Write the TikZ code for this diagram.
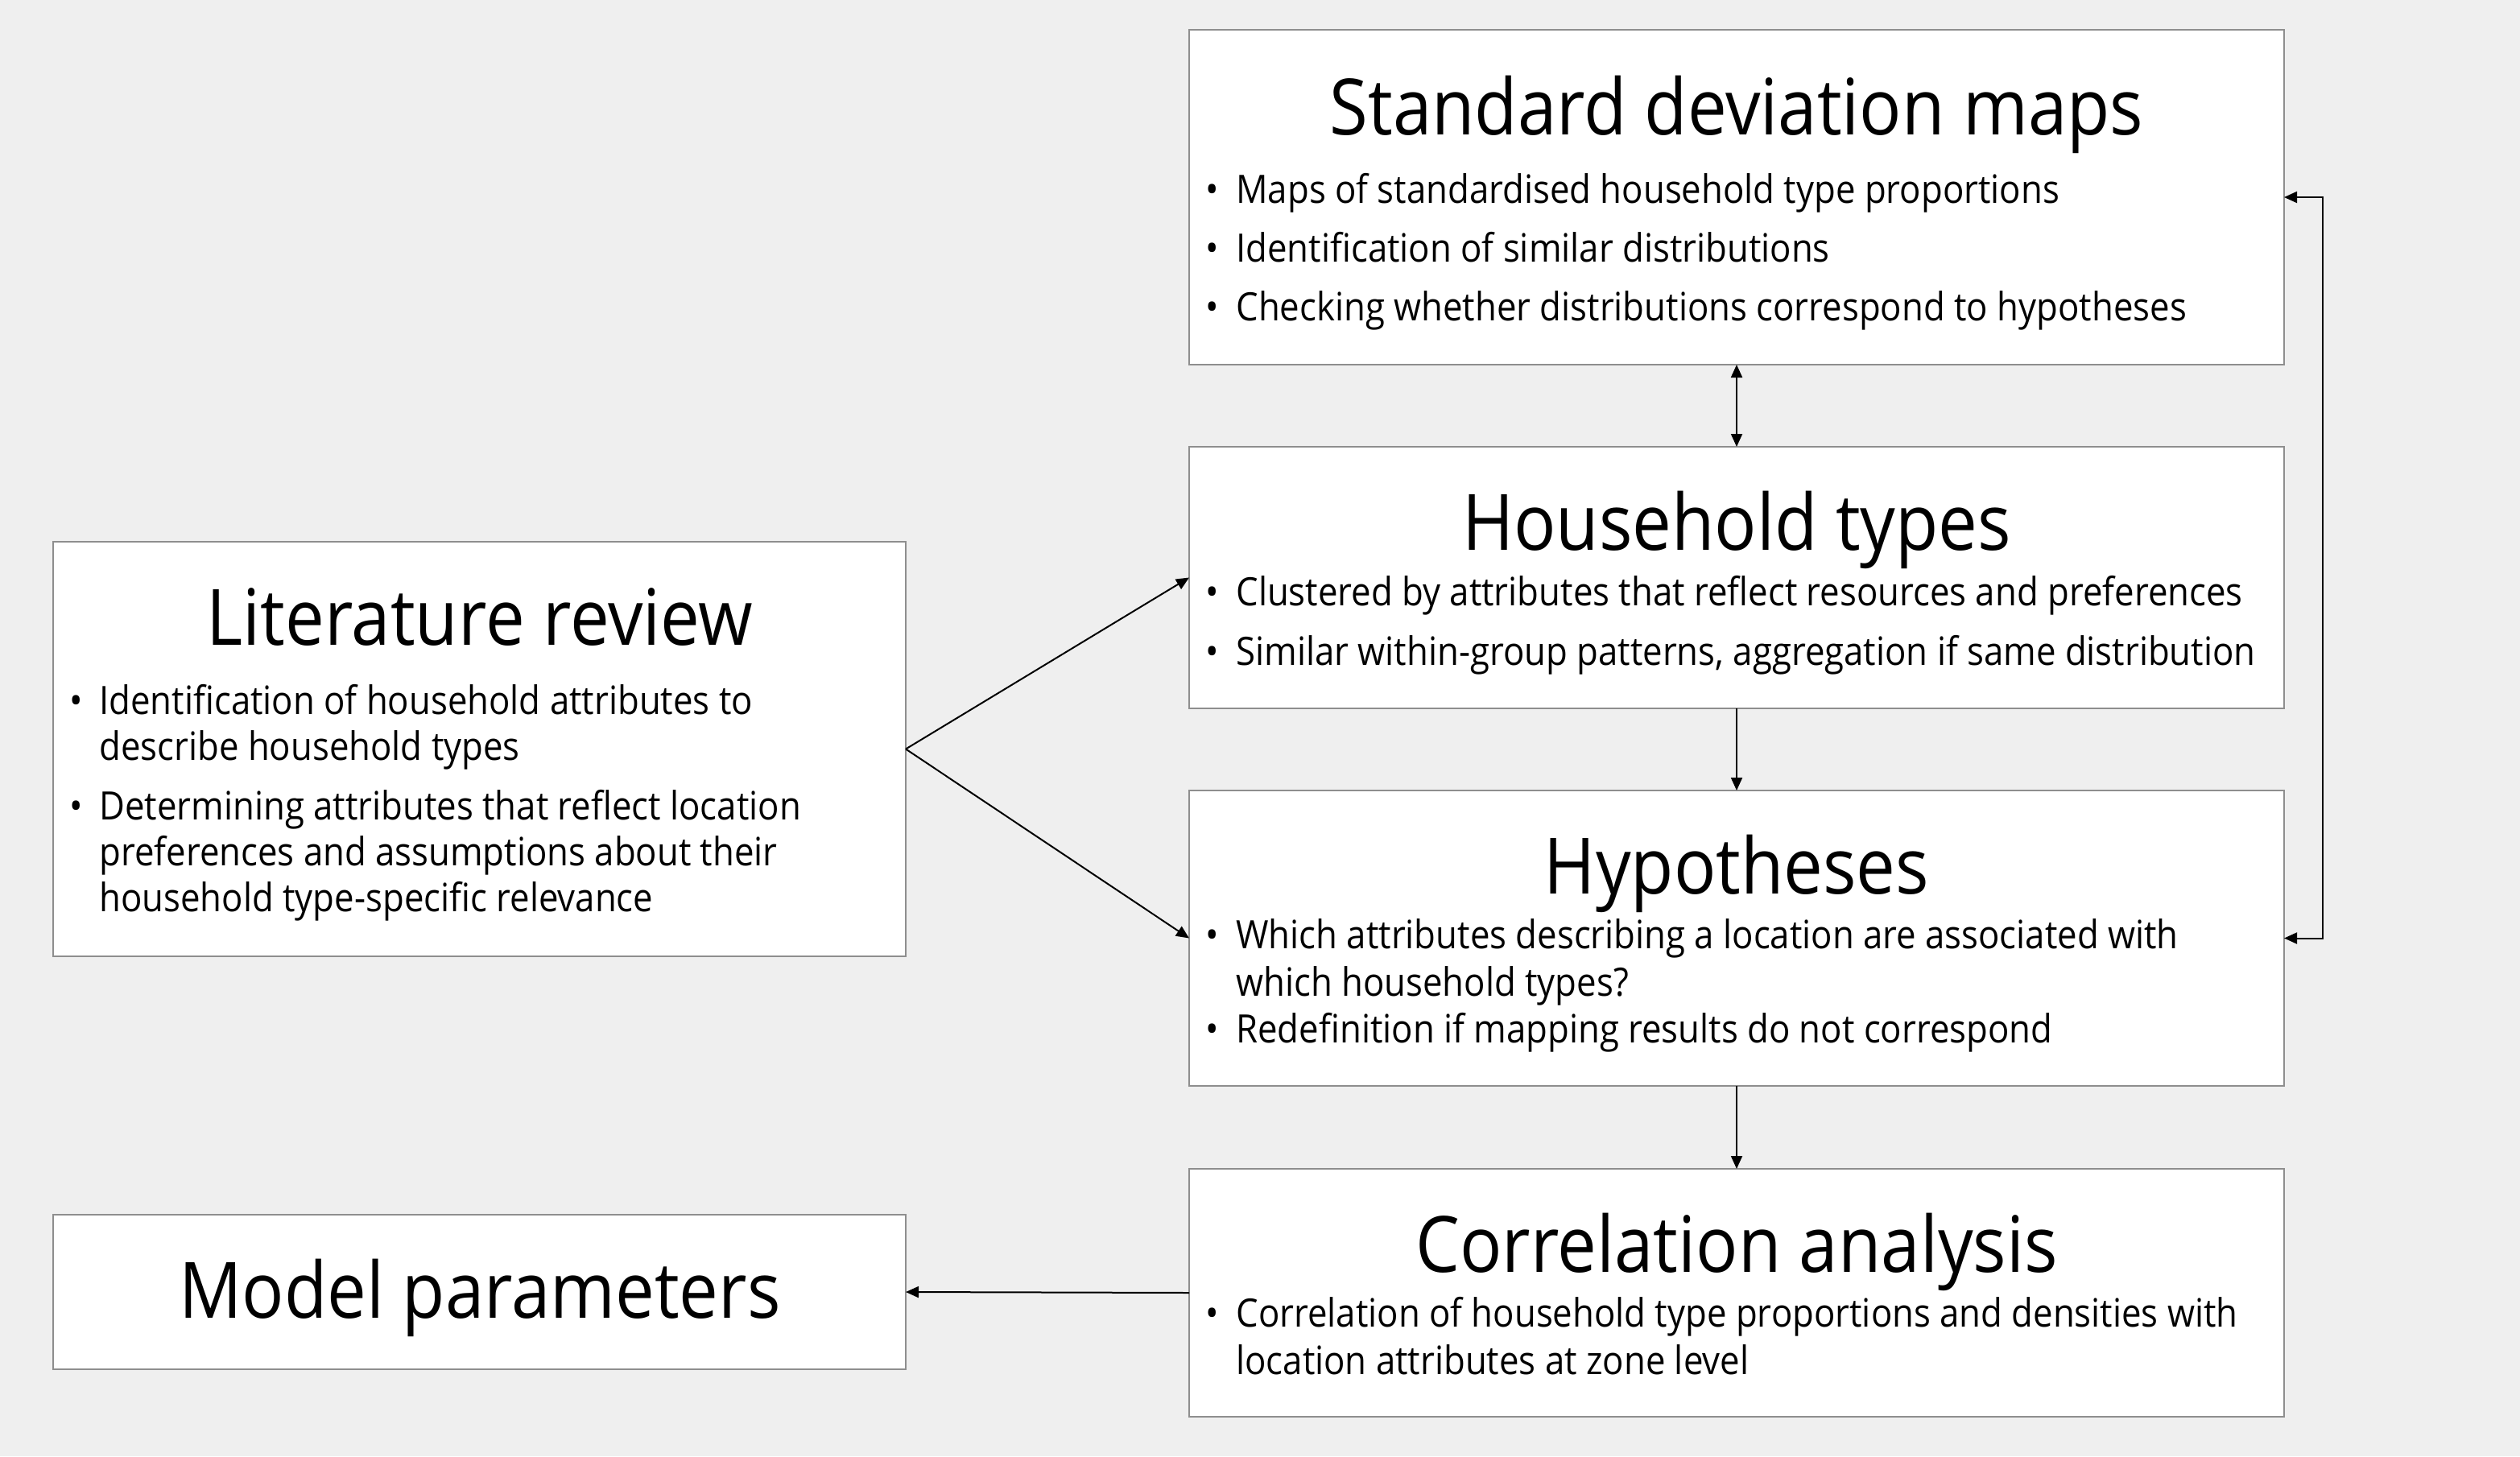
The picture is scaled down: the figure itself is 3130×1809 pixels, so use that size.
\documentclass[tikz,border=0pt]{standalone}
\usepackage{fontspec}
\setmainfont{Open Sans}[FakeStretch=0.9]
\usetikzlibrary{arrows.meta,fit}
\definecolor{bg}{HTML}{EFEFEF}
\definecolor{edgegray}{HTML}{8E8E8E}
\begin{document}
\begin{tikzpicture}[x=0.5pt,y=-0.5pt,
  box/.style={draw=edgegray, line width=1pt, fill=white, inner sep=0pt, outer sep=0pt},
  ttl/.style={anchor=base, inner sep=0pt, font=\fontsize{48.3}{58}\selectfont},
  itm/.style={anchor=base west, inner sep=0pt, font=\fontsize{24.3}{29}\selectfont},
  arr/.style={line width=1pt, -{Triangle[length=8pt,width=7pt]}},
  darr/.style={line width=1pt, {Triangle[length=8pt,width=7pt]}-{Triangle[length=8pt,width=7pt]}}]
\fill[bg] (0,0) rectangle (3130,1809);
\useasboundingbox (0,0) rectangle (3130,1809);

% boxes
\node[box, fit={(1477,37) (2837,453)}] (sdm) {};
\node[box, fit={(1477,555) (2837,880)}] (ht) {};
\node[box, fit={(1477,982) (2837,1349)}] (hyp) {};
\node[box, fit={(1477,1452) (2837,1760)}] (corr) {};
\node[box, fit={(66,673) (1125,1188)}] (lit) {};
\node[box, fit={(66,1509) (1125,1701)}] (mod) {};

% titles
\node[ttl] (sdmt) at (2157,167) {Standard deviation maps};
\node[ttl] (htt) at (2157,683) {Household types};
\node[ttl] (hypt) at (2157,1110) {Hypotheses};
\node[ttl] (corrt) at (2157,1580) {Correlation analysis};
\node[ttl] (litt) at (596,801) {Literature review};
\node[ttl] (modt) at (596,1637) {Model parameters};

% Standard deviation maps bullets
\node[itm] (sdm1b) at (1497,252) {•};
\node[itm] (sdm1) at (1535,252) {Maps of standardised household type proportions};
\node[itm] (sdm2b) at (1497,325) {•};
\node[itm] (sdm2) at (1535,325) {Identification of similar distributions};
\node[itm] (sdm3b) at (1497,398) {•};
\node[itm] (sdm3) at (1535,398) {Checking whether distributions correspond to hypotheses};

% Household types bullets
\node[itm] (ht1b) at (1497,752) {•};
\node[itm] (ht1) at (1535,752) {Clustered by attributes that reflect resources and preferences};
\node[itm] (ht2b) at (1497,826) {•};
\node[itm] (ht2) at (1535,826) {Similar within-group patterns, aggregation if same distribution};

% Hypotheses bullets
\node[itm] (hyp1b) at (1497,1178) {•};
\node[itm] (hyp1) at (1535,1178) {Which attributes describing a location are associated with};
\node[itm] (hyp1c) at (1535,1237) {which household types?};
\node[itm] (hyp2b) at (1497,1295) {•};
\node[itm] (hyp2) at (1535,1295) {Redefinition if mapping results do not correspond};

% Correlation bullets
\node[itm] (corr1b) at (1497,1648) {•};
\node[itm] (corr1) at (1535,1648) {Correlation of household type proportions and densities with};
\node[itm] (corr1c) at (1535,1707) {location attributes at zone level};

% Literature review bullets
\node[itm] (lit1b) at (86,887) {•};
\node[itm] (lit1) at (123,887) {Identification of household attributes to};
\node[itm] (lit1c) at (123,944) {describe household types};
\node[itm] (lit2b) at (86,1018) {•};
\node[itm] (lit2) at (123,1018) {Determining attributes that reflect location};
\node[itm] (lit2c) at (123,1075) {preferences and assumptions about their};
\node[itm] (lit2d) at (123,1132) {household type-specific relevance};

% connectors
\draw[arr] (lit.east) -- (ht.west);
\draw[arr] (lit.east) -- (hyp.west);
\draw[darr] (sdm.south) -- (ht.north);
\draw[arr] (ht.south) -- (hyp.north);
\draw[arr] (hyp.south) -- (corr.north);
\draw[arr] (corr.west) -- (mod.east);
\coordinate (rb) at (2885,0);
\draw[darr] (sdm.east) -- (sdm.east -| rb) -- (hyp.east -| rb) -- (hyp.east);
\end{tikzpicture}
\end{document}
